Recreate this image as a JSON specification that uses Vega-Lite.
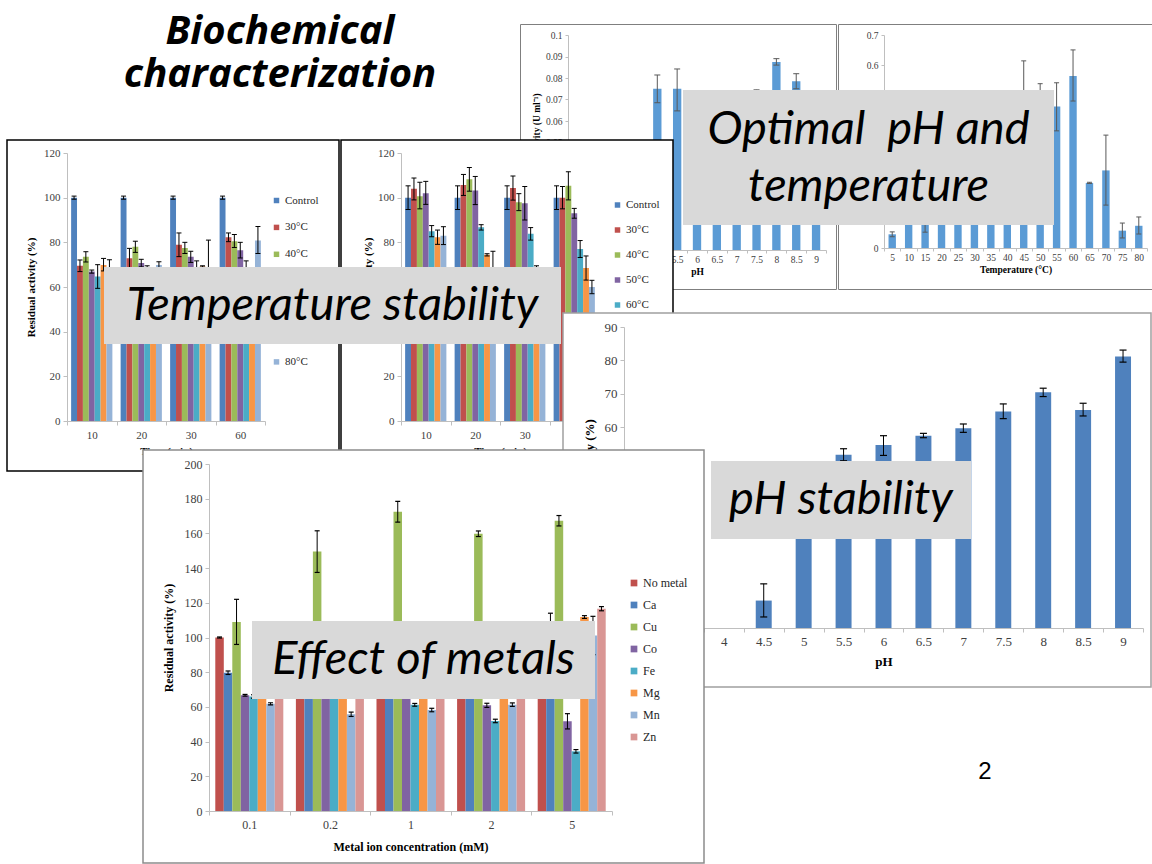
{
"$schema": "https://vega.github.io/schema/vega-lite/v6.json",
"padding": 0,
"background": "white",
"config": {
  "view": {"stroke": null},
  "axis": {"grid": false, "labelFont": "Liberation Serif", "titleFont": "Liberation Serif", "labelColor": "#404040", "titleColor": "#000000", "domainColor": "#bfbfbf", "tickColor": "#bfbfbf", "titleFontWeight": "bold", "labelAngle": 0, "labelOverlap": false},
  "legend": {"labelFont": "Liberation Serif", "labelColor": "#262626", "symbolType": "square", "symbolStrokeWidth": 0, "padding": 0}
},
"datasets": {
  "optph": [{"p":"3","v":0.02},{"p":"3.5","v":0.025},{"p":"4","v":0.03},{"p":"4.5","v":0.042},{"p":"5","v":0.075,"lo":0.0685,"hi":0.0814},{"p":"5.5","v":0.075,"lo":0.0647,"hi":0.0842},{"p":"6","v":0.07,"lo":0.066,"hi":0.074},{"p":"6.5","v":0.068,"lo":0.064,"hi":0.072},{"p":"7","v":0.071,"lo":0.067,"hi":0.073},{"p":"7.5","v":0.07,"lo":0.0655,"hi":0.0745},{"p":"8","v":0.0875,"lo":0.086,"hi":0.089},{"p":"8.5","v":0.0785,"lo":0.075,"hi":0.082},{"p":"9","v":0.068,"lo":0.064,"hi":0.072}],
  "opttemp": [{"t":"5","v":0.045,"lo":0.037,"hi":0.053},{"t":"10","v":0.2,"lo":0.18,"hi":0.22},{"t":"15","v":0.1,"lo":0.052,"hi":0.148},{"t":"20","v":0.2,"lo":0.18,"hi":0.22},{"t":"25","v":0.24,"lo":0.22,"hi":0.26},{"t":"30","v":0.28,"lo":0.26,"hi":0.3},{"t":"35","v":0.3,"lo":0.28,"hi":0.32},{"t":"40","v":0.33,"lo":0.3,"hi":0.36},{"t":"45","v":0.45,"lo":0.285,"hi":0.615},{"t":"50","v":0.49,"lo":0.44,"hi":0.54},{"t":"55","v":0.465,"lo":0.385,"hi":0.543},{"t":"60","v":0.565,"lo":0.483,"hi":0.651},{"t":"65","v":0.214,"lo":0.212,"hi":0.216},{"t":"70","v":0.255,"lo":0.141,"hi":0.371},{"t":"75","v":0.057,"lo":0.033,"hi":0.082},{"t":"80","v":0.073,"lo":0.046,"hi":0.102}],
  "tl": [
    {"g":"10","s":"Control","v":100,"lo":99.3,"hi":100.7},{"g":"10","s":"30°C","v":69.5,"lo":66.9,"hi":72.1},{"g":"10","s":"40°C","v":73.5,"lo":71.2,"hi":75.8},{"g":"10","s":"50°C","v":66.9,"lo":66.2,"hi":67.6},{"g":"10","s":"60°C","v":64.7,"lo":59.4,"hi":70},{"g":"10","s":"70°C","v":69.9,"lo":67.2,"hi":72.8},{"g":"10","s":"80°C","v":66,"lo":59.8,"hi":72.2},
    {"g":"20","s":"Control","v":100,"lo":99.3,"hi":100.7},{"g":"20","s":"30°C","v":72.9,"lo":68.5,"hi":77.3},{"g":"20","s":"40°C","v":78,"lo":75.5,"hi":80.5},{"g":"20","s":"50°C","v":70.7,"lo":69,"hi":72.4},{"g":"20","s":"60°C","v":69,"lo":68.5,"hi":69.5},{"g":"20","s":"70°C","v":67,"lo":66,"hi":68},{"g":"20","s":"80°C","v":69.9,"lo":68.5,"hi":71.3},
    {"g":"30","s":"Control","v":100,"lo":99.3,"hi":100.7},{"g":"30","s":"30°C","v":78.9,"lo":73.6,"hi":84.2},{"g":"30","s":"40°C","v":77.5,"lo":75,"hi":80},{"g":"30","s":"50°C","v":73.5,"lo":71,"hi":76},{"g":"30","s":"60°C","v":68.7,"lo":65.7,"hi":71.7},{"g":"30","s":"70°C","v":69.2,"lo":68.9,"hi":69.5},{"g":"30","s":"80°C","v":66,"lo":51,"hi":81},
    {"g":"60","s":"Control","v":100,"lo":99.3,"hi":100.7},{"g":"60","s":"30°C","v":82.3,"lo":80.3,"hi":84.2},{"g":"60","s":"40°C","v":80.5,"lo":77.7,"hi":83.5},{"g":"60","s":"50°C","v":76.5,"lo":73,"hi":80},{"g":"60","s":"60°C","v":68.7,"lo":65.7,"hi":71.7},{"g":"60","s":"70°C","v":67,"lo":66,"hi":68},{"g":"60","s":"80°C","v":80.8,"lo":75,"hi":87.1}
  ],
  "tr": [
    {"g":"10","s":"Control","v":100,"lo":94.7,"hi":105.3},{"g":"10","s":"30°C","v":104,"lo":99,"hi":108.8},{"g":"10","s":"40°C","v":100.6,"lo":95,"hi":106.9},{"g":"10","s":"50°C","v":102,"lo":97,"hi":107.3},{"g":"10","s":"60°C","v":85,"lo":82.5,"hi":87.5},{"g":"10","s":"70°C","v":82.3,"lo":79.1,"hi":85.5},{"g":"10","s":"80°C","v":83,"lo":79,"hi":87},
    {"g":"20","s":"Control","v":100,"lo":94.7,"hi":105.3},{"g":"20","s":"30°C","v":105.7,"lo":101,"hi":110.4},{"g":"20","s":"40°C","v":108.2,"lo":102.9,"hi":113.5},{"g":"20","s":"50°C","v":103.2,"lo":96.9,"hi":109.5},{"g":"20","s":"60°C","v":86.7,"lo":85.5,"hi":87.9},{"g":"20","s":"70°C","v":74.4,"lo":73.9,"hi":74.9},{"g":"20","s":"80°C","v":69,"lo":62,"hi":76},
    {"g":"30","s":"Control","v":100,"lo":94.7,"hi":105.3},{"g":"30","s":"30°C","v":104.3,"lo":98.9,"hi":109.7},{"g":"30","s":"40°C","v":98,"lo":94.2,"hi":101.8},{"g":"30","s":"50°C","v":97.5,"lo":90,"hi":105},{"g":"30","s":"60°C","v":83.8,"lo":81,"hi":86.6},{"g":"30","s":"70°C","v":67,"lo":64.5,"hi":69.5},{"g":"30","s":"80°C","v":65,"lo":62,"hi":68},
    {"g":"60","s":"Control","v":100,"lo":94.7,"hi":105.3},{"g":"60","s":"30°C","v":100,"lo":95,"hi":105},{"g":"60","s":"40°C","v":105.3,"lo":99,"hi":111.6},{"g":"60","s":"50°C","v":93,"lo":90.8,"hi":95.2},{"g":"60","s":"60°C","v":77,"lo":73.2,"hi":80.8},{"g":"60","s":"70°C","v":68.5,"lo":63.1,"hi":73.9},{"g":"60","s":"80°C","v":60,"lo":57,"hi":63}
  ],
  "phs": [{"p":"3","v":0},{"p":"3.5","v":0},{"p":"4","v":0},{"p":"4.5","v":8.2,"lo":3.3,"hi":13.2},{"p":"5","v":45,"lo":43,"hi":47},{"p":"5.5","v":51.8,"lo":50,"hi":53.6},{"p":"6","v":54.7,"lo":51.6,"hi":57.5},{"p":"6.5","v":57.5,"lo":56.9,"hi":58.2},{"p":"7","v":59.7,"lo":58.5,"hi":61},{"p":"7.5","v":64.7,"lo":62.6,"hi":67},{"p":"8","v":70.5,"lo":69.2,"hi":71.7},{"p":"8.5","v":65.2,"lo":63.4,"hi":67.2},{"p":"9","v":81.2,"lo":79.5,"hi":83.1}],
  "met": [
    {"c":"0.1","m":"No metal","v":100,"lo":99.7,"hi":100.3},{"c":"0.1","m":"Ca","v":79.7,"lo":78.7,"hi":80.7},{"c":"0.1","m":"Cu","v":109,"lo":96,"hi":122},{"c":"0.1","m":"Co","v":66.7,"lo":66.2,"hi":67.2},{"c":"0.1","m":"Fe","v":66,"lo":65,"hi":67},{"c":"0.1","m":"Mg","v":67,"lo":66,"hi":68},{"c":"0.1","m":"Mn","v":61.8,"lo":61.2,"hi":62.4},{"c":"0.1","m":"Zn","v":70,"lo":69,"hi":71},
    {"c":"0.2","m":"No metal","v":100,"lo":99.5,"hi":100.5},{"c":"0.2","m":"Ca","v":85,"lo":84,"hi":86},{"c":"0.2","m":"Cu","v":149.5,"lo":137.5,"hi":161.5},{"c":"0.2","m":"Co","v":70,"lo":69,"hi":71},{"c":"0.2","m":"Fe","v":72,"lo":71,"hi":73},{"c":"0.2","m":"Mg","v":75,"lo":74,"hi":76},{"c":"0.2","m":"Mn","v":55.7,"lo":54.5,"hi":57},{"c":"0.2","m":"Zn","v":80,"lo":79,"hi":81},
    {"c":"1","m":"No metal","v":100,"lo":99.5,"hi":100.5},{"c":"1","m":"Ca","v":88,"lo":87,"hi":89},{"c":"1","m":"Cu","v":172.5,"lo":166.5,"hi":178.5},{"c":"1","m":"Co","v":70,"lo":69,"hi":71},{"c":"1","m":"Fe","v":61.2,"lo":60.4,"hi":62},{"c":"1","m":"Mg","v":75,"lo":74,"hi":76},{"c":"1","m":"Mn","v":58.2,"lo":57.2,"hi":59.2},{"c":"1","m":"Zn","v":78,"lo":77,"hi":79},
    {"c":"2","m":"No metal","v":100,"lo":99.5,"hi":100.5},{"c":"2","m":"Ca","v":90,"lo":89,"hi":91},{"c":"2","m":"Cu","v":159.8,"lo":158.2,"hi":161.4},{"c":"2","m":"Co","v":60.9,"lo":59.7,"hi":62.1},{"c":"2","m":"Fe","v":51.9,"lo":50.9,"hi":52.9},{"c":"2","m":"Mg","v":85,"lo":84,"hi":86},{"c":"2","m":"Mn","v":61.3,"lo":60.3,"hi":62.3},{"c":"2","m":"Zn","v":82,"lo":81,"hi":83},
    {"c":"5","m":"No metal","v":100,"lo":99.5,"hi":100.5},{"c":"5","m":"Ca","v":100,"lo":86,"hi":114},{"c":"5","m":"Cu","v":167.3,"lo":164.3,"hi":170.3},{"c":"5","m":"Co","v":51.7,"lo":47.3,"hi":56.1},{"c":"5","m":"Fe","v":34.4,"lo":33.4,"hi":35.4},{"c":"5","m":"Mg","v":111.8,"lo":111,"hi":112.6},{"c":"5","m":"Mn","v":101.2,"lo":90.1,"hi":112.2},{"c":"5","m":"Zn","v":116.6,"lo":115.4,"hi":117.8}
  ]
},
"resolve": {"scale": {"color": "independent", "xOffset": "independent"}, "legend": {"color": "independent"}},
"columns": 1, "align": "none", "spacing": -243,
"concat": [
 {"resolve": {"scale": {"color": "independent", "xOffset": "independent"}, "legend": {"color": "independent"}},
  "columns": 1, "align": "none", "spacing": -239,
  "concat": [
   {"resolve": {"scale": {"color": "independent", "xOffset": "independent"}, "legend": {"color": "independent"}},
    "columns": 1, "align": "none", "spacing": -227,
    "concat": [
     {"resolve": {"scale": {"color": "independent", "xOffset": "independent"}, "legend": {"color": "independent"}},
      "columns": 1, "align": "none", "spacing": -160,
      "concat": [
       {"resolve": {"scale": {"color": "independent", "xOffset": "independent"}, "legend": {"color": "independent"}},
        "columns": 1, "align": "none", "spacing": -205,
        "concat": [
         {"resolve": {"scale": {"color": "independent", "xOffset": "independent"}, "legend": {"color": "independent"}},
          "columns": 1, "align": "none", "spacing": -151,
          "concat": [
           {"resolve": {"scale": {"color": "independent", "xOffset": "independent"}, "legend": {"color": "independent"}},
            "columns": 1, "align": "none", "spacing": -200,
            "concat": [
             {"spacing": 0, "hconcat": [
               {"width": 100, "height": 1, "data": {"values": []}, "mark": "point"},
               {"width": 360, "height": 100, "data": {"values": [{"t": "Biochemical\ncharacterization"}]},
                "mark": {"type": "text", "font": "Open Sans", "fontStyle": "italic", "fontWeight": "bold", "fontSize": 40, "lineHeight": 43, "lineBreak": "\n", "dy": -18, "color": "#000000"},
                "encoding": {"text": {"field": "t", "type": "nominal"}}},
               {"width": 59, "height": 1, "data": {"values": []}, "mark": "point"},
               {"spacing": 0, "vconcat": [
                 {"width": 1, "height": 23, "data": {"values": []}, "mark": "point"},
                 {"spacing": 0, "hconcat": [
                   {"width": 316, "height": 265,
                    "view": {"fill": "#ffffff", "stroke": "#7f7f7f", "strokeWidth": 1},
                    "data": {"name": "optph"},
                    "encoding": {"x": {"field": "p", "type": "nominal", "sort": ["3","3.5","4","4.5","5","5.5","6","6.5","7","7.5","8","8.5","9"], "scale": {"range": [48, 306], "paddingInner": 0, "paddingOuter": 0},
                      "axis": {"title": "pH", "offset": -39, "tickBand": "extent", "labelFontSize": 9.5, "titleFontSize": 9.5, "tickSize": 3, "labelPadding": 1, "titlePadding": 3}}},
                    "layer": [
                     {"mark": {"type": "bar", "color": "#5b9bd5", "width": {"band": 0.42}},
                      "encoding": {"y": {"field": "v", "type": "quantitative", "title": "Enzyme activity (U ml⁻¹)", "scale": {"domain": [0, 0.1], "range": [226, 11], "nice": false},
                        "axis": {"offset": -48, "values": [0,0.01,0.02,0.03,0.04,0.05,0.06,0.07,0.08,0.09,0.1], "format": "~g", "labelFontSize": 9.5, "titleFontSize": 9.5, "tickSize": 3, "labelPadding": 3, "titlePadding": 4}}}},
                     {"mark": {"type": "rule", "color": "#595959"}, "encoding": {"y": {"field": "lo", "type": "quantitative", "title": "Enzyme activity (U ml⁻¹)", "axis": {"offset": -48, "values": [0,0.01,0.02,0.03,0.04,0.05,0.06,0.07,0.08,0.09,0.1], "format": "~g", "labelFontSize": 9.5, "titleFontSize": 9.5, "tickSize": 3, "labelPadding": 3, "titlePadding": 4}}, "y2": {"field": "hi"}}},
                     {"mark": {"type": "tick", "color": "#595959", "size": 6, "thickness": 1, "opacity": 1}, "encoding": {"y": {"field": "lo", "type": "quantitative", "title": "Enzyme activity (U ml⁻¹)", "axis": {"offset": -48, "values": [0,0.01,0.02,0.03,0.04,0.05,0.06,0.07,0.08,0.09,0.1], "format": "~g", "labelFontSize": 9.5, "titleFontSize": 9.5, "tickSize": 3, "labelPadding": 3, "titlePadding": 4}}}},
                     {"mark": {"type": "tick", "color": "#595959", "size": 6, "thickness": 1, "opacity": 1}, "encoding": {"y": {"field": "hi", "type": "quantitative", "title": "Enzyme activity (U ml⁻¹)", "axis": {"offset": -48, "values": [0,0.01,0.02,0.03,0.04,0.05,0.06,0.07,0.08,0.09,0.1], "format": "~g", "labelFontSize": 9.5, "titleFontSize": 9.5, "tickSize": 3, "labelPadding": 3, "titlePadding": 4}}}}
                    ]},
                   {"width": 314, "height": 265,
                    "view": {"fill": "#ffffff", "stroke": "#7f7f7f", "strokeWidth": 1},
                    "data": {"name": "opttemp"},
                    "encoding": {"x": {"field": "t", "type": "nominal", "sort": ["5","10","15","20","25","30","35","40","45","50","55","60","65","70","75","80"], "scale": {"range": [46, 309], "paddingInner": 0, "paddingOuter": 0},
                      "axis": {"title": "Temperature (°C)", "offset": -41, "tickBand": "extent", "labelFontSize": 9.5, "titleFontSize": 9.5, "tickSize": 3, "labelPadding": 1, "titlePadding": 3}}},
                    "layer": [
                     {"mark": {"type": "bar", "color": "#5b9bd5", "width": {"band": 0.45}},
                      "encoding": {"y": {"field": "v", "type": "quantitative", "title": "Enzyme activity (U ml⁻¹)", "scale": {"domain": [0, 0.7], "range": [224, 11], "nice": false},
                        "axis": {"offset": -46, "values": [0,0.1,0.2,0.3,0.4,0.5,0.6,0.7], "format": "~g", "labelFontSize": 9.5, "titleFontSize": 9.5, "tickSize": 3, "labelPadding": 3, "titlePadding": 8}}}},
                     {"mark": {"type": "rule", "color": "#595959"}, "encoding": {"y": {"field": "lo", "type": "quantitative", "title": "Enzyme activity (U ml⁻¹)", "axis": {"offset": -46, "values": [0,0.1,0.2,0.3,0.4,0.5,0.6,0.7], "format": "~g", "labelFontSize": 9.5, "titleFontSize": 9.5, "tickSize": 3, "labelPadding": 3, "titlePadding": 8}}, "y2": {"field": "hi"}}},
                     {"mark": {"type": "tick", "color": "#595959", "size": 5, "thickness": 1, "opacity": 1}, "encoding": {"y": {"field": "lo", "type": "quantitative", "title": "Enzyme activity (U ml⁻¹)", "axis": {"offset": -46, "values": [0,0.1,0.2,0.3,0.4,0.5,0.6,0.7], "format": "~g", "labelFontSize": 9.5, "titleFontSize": 9.5, "tickSize": 3, "labelPadding": 3, "titlePadding": 8}}}},
                     {"mark": {"type": "tick", "color": "#595959", "size": 5, "thickness": 1, "opacity": 1}, "encoding": {"y": {"field": "hi", "type": "quantitative", "title": "Enzyme activity (U ml⁻¹)", "axis": {"offset": -46, "values": [0,0.1,0.2,0.3,0.4,0.5,0.6,0.7], "format": "~g", "labelFontSize": 9.5, "titleFontSize": 9.5, "tickSize": 3, "labelPadding": 3, "titlePadding": 8}}}}
                    ]}
                 ]}
               ]}
             ]},
             {"spacing": 0, "hconcat": [
               {"width": 683, "height": 1, "data": {"values": []}, "mark": "point"},
               {"width": 371, "height": 135, "view": {"fill": "#d9d9d9", "stroke": null},
                "data": {"values": [{"t": "Optimal\u00a0 pH and\ntemperature"}]},
                "mark": {"type": "text", "font": "Lato", "fontStyle": "italic", "fontSize": 47, "lineHeight": 57, "lineBreak": "\n", "dy": -28, "color": "#000000"},
                "encoding": {"text": {"field": "t", "type": "nominal"}}}
             ]}
            ]},
           {"resolve": {"scale": {"color": "independent", "xOffset": "independent"}, "legend": {"color": "independent"}},
            "spacing": 0, "hconcat": [
             {"width": 6, "height": 1, "data": {"values": []}, "mark": "point"},
             {"width": 332, "height": 331,
              "view": {"fill": "#ffffff", "stroke": "#000000", "strokeWidth": 1.5},
              "data": {"name": "tl"},
              "encoding": {
                "x": {"field": "g", "type": "nominal", "sort": ["10","20","30","60"], "scale": {"range": [60, 258], "paddingInner": 0, "paddingOuter": 0},
                  "axis": {"title": "Time (min)", "offset": -50, "tickBand": "extent", "labelFontSize": 11, "titleFontSize": 11, "tickSize": 4, "labelPadding": 4, "titlePadding": 5}},
                "xOffset": {"field": "s", "type": "nominal", "sort": ["Control","30°C","40°C","50°C","60°C","70°C","80°C"], "scale": {"paddingInner": 0, "paddingOuter": 0.7}}
              },
              "layer": [
               {"mark": {"type": "bar"},
                "encoding": {
                  "y": {"field": "v", "type": "quantitative", "title": "Residual activity (%)", "scale": {"domain": [0, 120], "range": [281, 13], "nice": false},
                    "axis": {"offset": -60, "values": [0,20,40,60,80,100,120], "labelFontSize": 11, "titleFontSize": 11, "tickSize": 4, "labelPadding": 3, "titlePadding": 7}},
                  "color": {"field": "s", "type": "nominal", "scale": {"domain": ["Control","30°C","40°C","50°C","60°C","70°C","80°C"], "range": ["#4f81bd","#c0504d","#9bbb59","#8064a2","#4bacc6","#f79646","#95b3d7"]},
                    "legend": {"orient": "none", "legendX": 264, "legendY": 55, "title": null, "symbolSize": 30, "labelFontSize": 11, "rowPadding": 14.9, "labelOffset": 3}}}},
               {"mark": {"type": "rule", "color": "#000000"}, "encoding": {"y": {"field": "lo", "type": "quantitative", "title": "Residual activity (%)", "axis": {"offset": -60, "values": [0,20,40,60,80,100,120], "labelFontSize": 11, "titleFontSize": 11, "tickSize": 4, "labelPadding": 3, "titlePadding": 7}}, "y2": {"field": "hi"}}},
               {"mark": {"type": "tick", "color": "#000000", "size": 5, "thickness": 1, "opacity": 1}, "encoding": {"y": {"field": "lo", "type": "quantitative", "title": "Residual activity (%)", "axis": {"offset": -60, "values": [0,20,40,60,80,100,120], "labelFontSize": 11, "titleFontSize": 11, "tickSize": 4, "labelPadding": 3, "titlePadding": 7}}}},
               {"mark": {"type": "tick", "color": "#000000", "size": 5, "thickness": 1, "opacity": 1}, "encoding": {"y": {"field": "hi", "type": "quantitative", "title": "Residual activity (%)", "axis": {"offset": -60, "values": [0,20,40,60,80,100,120], "labelFontSize": 11, "titleFontSize": 11, "tickSize": 4, "labelPadding": 3, "titlePadding": 7}}}}
              ]},
             {"width": 332, "height": 331,
              "view": {"fill": "#ffffff", "stroke": "#000000", "strokeWidth": 1.5},
              "data": {"name": "tr"},
              "encoding": {
                "x": {"field": "g", "type": "nominal", "sort": ["10","20","30","60"], "scale": {"range": [60, 258], "paddingInner": 0, "paddingOuter": 0},
                  "axis": {"title": "Time (min)", "offset": -50, "tickBand": "extent", "labelFontSize": 11, "titleFontSize": 11, "tickSize": 4, "labelPadding": 4, "titlePadding": 5}},
                "xOffset": {"field": "s", "type": "nominal", "sort": ["Control","30°C","40°C","50°C","60°C","70°C","80°C"], "scale": {"paddingInner": 0, "paddingOuter": 0.7}}
              },
              "layer": [
               {"mark": {"type": "bar"},
                "encoding": {
                  "y": {"field": "v", "type": "quantitative", "title": "Residual activity (%)", "scale": {"domain": [0, 120], "range": [281, 13], "nice": false},
                    "axis": {"offset": -60, "values": [0,20,40,60,80,100,120], "labelFontSize": 11, "titleFontSize": 11, "tickSize": 4, "labelPadding": 3, "titlePadding": 4}},
                  "color": {"field": "s", "type": "nominal", "scale": {"domain": ["Control","30°C","40°C","50°C","60°C","70°C","80°C"], "range": ["#4f81bd","#c0504d","#9bbb59","#8064a2","#4bacc6","#f79646","#95b3d7"]},
                    "legend": {"orient": "none", "legendX": 271, "legendY": 59.5, "title": null, "symbolSize": 30, "labelFontSize": 11, "rowPadding": 13, "labelOffset": 3}}}},
               {"mark": {"type": "rule", "color": "#000000"}, "encoding": {"y": {"field": "lo", "type": "quantitative", "title": "Residual activity (%)", "axis": {"offset": -60, "values": [0,20,40,60,80,100,120], "labelFontSize": 11, "titleFontSize": 11, "tickSize": 4, "labelPadding": 3, "titlePadding": 4}}, "y2": {"field": "hi"}}},
               {"mark": {"type": "tick", "color": "#000000", "size": 5, "thickness": 1, "opacity": 1}, "encoding": {"y": {"field": "lo", "type": "quantitative", "title": "Residual activity (%)", "axis": {"offset": -60, "values": [0,20,40,60,80,100,120], "labelFontSize": 11, "titleFontSize": 11, "tickSize": 4, "labelPadding": 3, "titlePadding": 4}}}},
               {"mark": {"type": "tick", "color": "#000000", "size": 5, "thickness": 1, "opacity": 1}, "encoding": {"y": {"field": "hi", "type": "quantitative", "title": "Residual activity (%)", "axis": {"offset": -60, "values": [0,20,40,60,80,100,120], "labelFontSize": 11, "titleFontSize": 11, "tickSize": 4, "labelPadding": 3, "titlePadding": 4}}}}
              ]}
           ]}
          ]},
         {"spacing": 0, "hconcat": [
           {"width": 104, "height": 1, "data": {"values": []}, "mark": "point"},
           {"width": 457, "height": 77, "view": {"fill": "#d9d9d9", "stroke": null},
            "data": {"values": [{"t": "Temperature stability"}]},
            "mark": {"type": "text", "font": "Lato", "fontStyle": "italic", "fontSize": 47, "color": "#000000"},
            "encoding": {"text": {"field": "t", "type": "nominal"}}}
         ]}
        ]},
       {"spacing": 0, "hconcat": [
         {"width": 562, "height": 1, "data": {"values": []}, "mark": "point"},
         {"width": 588, "height": 374,
          "view": {"fill": "#ffffff", "stroke": "#a0a0a0", "strokeWidth": 1.5},
          "data": {"name": "phs"},
          "encoding": {"x": {"field": "p", "type": "nominal", "sort": ["3","3.5","4","4.5","5","5.5","6","6.5","7","7.5","8","8.5","9"], "scale": {"range": [61, 580], "paddingInner": 0, "paddingOuter": 0},
            "axis": {"title": "pH", "offset": -59, "tickBand": "extent", "labelFontSize": 13, "titleFontSize": 13, "tickSize": 4, "labelPadding": 3, "titlePadding": 7}}},
          "layer": [
           {"mark": {"type": "bar", "color": "#4f81bd", "width": {"band": 0.4}},
            "encoding": {"y": {"field": "v", "type": "quantitative", "title": "Residual activity (%)", "scale": {"domain": [0, 90], "range": [315, 14], "nice": false},
              "axis": {"offset": -61, "values": [0,10,20,30,40,50,60,70,80,90], "labelFontSize": 13, "titleFontSize": 13, "tickSize": 4, "labelPadding": 3, "titlePadding": 8}}}},
           {"mark": {"type": "rule", "color": "#000000"}, "encoding": {"y": {"field": "lo", "type": "quantitative", "title": "Residual activity (%)", "axis": {"offset": -61, "values": [0,10,20,30,40,50,60,70,80,90], "labelFontSize": 13, "titleFontSize": 13, "tickSize": 4, "labelPadding": 3, "titlePadding": 8}}, "y2": {"field": "hi"}}},
           {"mark": {"type": "tick", "color": "#000000", "size": 7, "thickness": 1.2, "opacity": 1}, "encoding": {"y": {"field": "lo", "type": "quantitative", "title": "Residual activity (%)", "axis": {"offset": -61, "values": [0,10,20,30,40,50,60,70,80,90], "labelFontSize": 13, "titleFontSize": 13, "tickSize": 4, "labelPadding": 3, "titlePadding": 8}}}},
           {"mark": {"type": "tick", "color": "#000000", "size": 7, "thickness": 1.2, "opacity": 1}, "encoding": {"y": {"field": "hi", "type": "quantitative", "title": "Residual activity (%)", "axis": {"offset": -61, "values": [0,10,20,30,40,50,60,70,80,90], "labelFontSize": 13, "titleFontSize": 13, "tickSize": 4, "labelPadding": 3, "titlePadding": 8}}}}
          ]}
       ]}
      ]},
     {"spacing": 0, "hconcat": [
       {"width": 711, "height": 1, "data": {"values": []}, "mark": "point"},
       {"width": 260, "height": 78, "view": {"fill": "#d9d9d9", "stroke": null},
        "data": {"values": [{"t": "pH stability"}]},
        "mark": {"type": "text", "font": "Lato", "fontStyle": "italic", "fontSize": 47, "color": "#000000"},
        "encoding": {"text": {"field": "t", "type": "nominal"}}}
     ]}
    ]},
   {"resolve": {"scale": {"color": "independent", "xOffset": "independent"}, "legend": {"color": "independent"}},
    "spacing": 0, "hconcat": [
     {"width": 142, "height": 1, "data": {"values": []}, "mark": "point"},
     {"width": 561, "height": 413,
      "view": {"fill": "#ffffff", "stroke": "#8c8c8c", "strokeWidth": 1.5},
      "data": {"name": "met"},
      "encoding": {
        "x": {"field": "c", "type": "nominal", "sort": ["0.1","0.2","1","2","5"], "scale": {"range": [66, 469], "paddingInner": 0, "paddingOuter": 0},
          "axis": {"title": "Metal ion concentration (mM)", "offset": -52, "tickBand": "extent", "labelFontSize": 12, "titleFontSize": 12, "tickSize": 4, "labelPadding": 4, "titlePadding": 11}},
        "xOffset": {"field": "m", "type": "nominal", "sort": ["No metal","Ca","Cu","Co","Fe","Mg","Mn","Zn"], "scale": {"paddingInner": 0, "paddingOuter": 0.74}}
      },
      "layer": [
       {"mark": {"type": "bar"},
        "encoding": {
          "y": {"field": "v", "type": "quantitative", "title": "Residual activity (%)", "scale": {"domain": [0, 200], "range": [361, 14], "nice": false},
            "axis": {"offset": -66, "values": [0,20,40,60,80,100,120,140,160,180,200], "labelFontSize": 12, "titleFontSize": 12, "tickSize": 4, "labelPadding": 3, "titlePadding": 9}},
          "color": {"field": "m", "type": "nominal", "scale": {"domain": ["No metal","Ca","Cu","Co","Fe","Mg","Mn","Zn"], "range": ["#c0504d","#4f81bd","#9bbb59","#8064a2","#4bacc6","#f79646","#95b3d7","#d99694"]},
            "legend": {"orient": "none", "legendX": 485, "legendY": 127, "title": null, "symbolSize": 45, "labelFontSize": 12, "rowPadding": 10, "labelOffset": 3}}}},
       {"mark": {"type": "rule", "color": "#000000"}, "encoding": {"y": {"field": "lo", "type": "quantitative", "title": "Residual activity (%)", "axis": {"offset": -66, "values": [0,20,40,60,80,100,120,140,160,180,200], "labelFontSize": 12, "titleFontSize": 12, "tickSize": 4, "labelPadding": 3, "titlePadding": 9}}, "y2": {"field": "hi"}}},
       {"mark": {"type": "tick", "color": "#000000", "size": 5, "thickness": 1.2, "opacity": 1}, "encoding": {"y": {"field": "lo", "type": "quantitative", "title": "Residual activity (%)", "axis": {"offset": -66, "values": [0,20,40,60,80,100,120,140,160,180,200], "labelFontSize": 12, "titleFontSize": 12, "tickSize": 4, "labelPadding": 3, "titlePadding": 9}}}},
       {"mark": {"type": "tick", "color": "#000000", "size": 5, "thickness": 1.2, "opacity": 1}, "encoding": {"y": {"field": "hi", "type": "quantitative", "title": "Residual activity (%)", "axis": {"offset": -66, "values": [0,20,40,60,80,100,120,140,160,180,200], "labelFontSize": 12, "titleFontSize": 12, "tickSize": 4, "labelPadding": 3, "titlePadding": 9}}}}
      ]},
     {"width": 270, "height": 1, "data": {"values": []}, "mark": "point"},
     {"spacing": 0, "vconcat": [
       {"width": 1, "height": 308, "data": {"values": []}, "mark": "point"},
       {"width": 20, "height": 28, "data": {"values": [{"t": "2"}]},
        "mark": {"type": "text", "font": "Liberation Sans", "fontSize": 24, "color": "#000000"},
        "encoding": {"text": {"field": "t", "type": "nominal"}}}
     ]}
   ]}
  ]},
 {"spacing": 0, "hconcat": [
   {"width": 252, "height": 1, "data": {"values": []}, "mark": "point"},
   {"width": 343, "height": 78, "view": {"fill": "#d9d9d9", "stroke": null},
    "data": {"values": [{"t": "Effect of metals"}]},
    "mark": {"type": "text", "font": "Lato", "fontStyle": "italic", "fontSize": 47, "color": "#000000"},
    "encoding": {"text": {"field": "t", "type": "nominal"}}}
 ]}
]
}
